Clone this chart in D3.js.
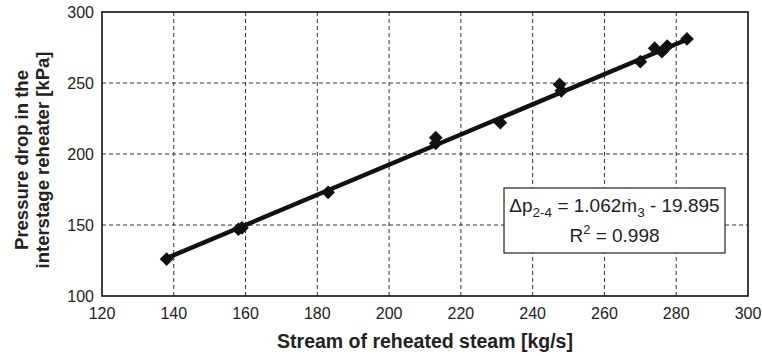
<!DOCTYPE html>
<html>
<head>
<meta charset="utf-8">
<script src="https://cdn.jsdelivr.net/npm/d3@7"></script>
<style>
  body { margin: 0; background: #fff; }
  text { font-family: "Liberation Sans", Arial, sans-serif; fill: #222; }
</style>
</head>
<body>
<div id="chart"></div>
<script>
var steamFlow = [138, 158, 159, 183, 213, 213, 231, 247.5, 248, 270, 274, 276, 277.5, 283];
var pressureDrop = [126, 147, 148, 173, 211.5, 207.5, 222, 249, 244.5, 265, 274.5, 272, 276, 281];
var xTicks = [120, 140, 160, 180, 200, 220, 240, 260, 280, 300];
var yTicks = [100, 150, 200, 250, 300];
var fitSlope = 1.062, fitIntercept = -19.895, fitR2 = 0.998;

var W = 762, H = 356;
var m = {left: 102, right: 748, top: 12, bottom: 296};

var svg = d3.select("#chart").append("svg").attr("width", W).attr("height", H);

var x = d3.scaleLinear().domain([120, 300]).range([m.left, m.right]);
var y = d3.scaleLinear().domain([100, 300]).range([m.bottom, m.top]);

// grid
svg.append("g").selectAll("line").data(xTicks.slice(1, -1)).join("line")
  .attr("x1", d => x(d)).attr("x2", d => x(d))
  .attr("y1", m.top).attr("y2", m.bottom)
  .attr("stroke", "#333").attr("stroke-width", 1).attr("stroke-dasharray", "4,3");
svg.append("g").selectAll("line").data(yTicks.slice(1, -1)).join("line")
  .attr("y1", d => y(d)).attr("y2", d => y(d))
  .attr("x1", m.left).attr("x2", m.right)
  .attr("stroke", "#333").attr("stroke-width", 1).attr("stroke-dasharray", "4,3");

// frame
svg.append("rect")
  .attr("x", m.left).attr("y", m.top)
  .attr("width", m.right - m.left).attr("height", m.bottom - m.top)
  .attr("fill", "none").attr("stroke", "#111").attr("stroke-width", 1.6);

// tick labels
svg.append("g").selectAll("text").data(xTicks).join("text")
  .attr("x", d => x(d)).attr("y", m.bottom + 23)
  .attr("text-anchor", "middle").style("font-size", "16px")
  .text(d => d);
svg.append("g").selectAll("text").data(yTicks).join("text")
  .attr("x", m.left - 8).attr("y", d => y(d) + 6)
  .attr("text-anchor", "end").style("font-size", "16px")
  .text(d => d);

// trend line over the data range
var xr = d3.extent(steamFlow);
svg.append("line")
  .attr("x1", x(xr[0])).attr("y1", y(fitSlope * xr[0] + fitIntercept))
  .attr("x2", x(xr[1])).attr("y2", y(fitSlope * xr[1] + fitIntercept))
  .attr("stroke", "#111").attr("stroke-width", 4.5);

// diamonds
var diamond = d3.symbol().type(d3.symbolDiamond2).size(120);
svg.append("g").selectAll("path").data(steamFlow).join("path")
  .attr("transform", (d, i) => "translate(" + x(d) + "," + y(pressureDrop[i]) + ")")
  .attr("d", diamond)
  .attr("fill", "#111");

// equation box
var box = svg.append("g").attr("transform", "translate(504,188)");
box.append("rect").attr("width", 221).attr("height", 65)
  .attr("fill", "#fff").attr("stroke", "#222").attr("stroke-width", 1.2);
var eq = box.append("text").attr("x", 110.5).attr("y", 24)
  .attr("text-anchor", "middle").style("font-size", "19px");
eq.append("tspan").text("\u0394p");
eq.append("tspan").attr("dy", 5).style("font-size", "13.5px").text("2-4");
eq.append("tspan").attr("dy", -5).text(" = " + fitSlope + "m\u0307");
eq.append("tspan").attr("dy", 5).style("font-size", "13.5px").text("3");
eq.append("tspan").attr("dy", -5).text(" - " + (-fitIntercept));
var r2 = box.append("text").attr("x", 110.5).attr("y", 54)
  .attr("text-anchor", "middle").style("font-size", "19px");
r2.append("tspan").text("R");
r2.append("tspan").attr("dy", -8).style("font-size", "13px").text("2");
r2.append("tspan").attr("dy", 8).text(" = " + fitR2);

// axis titles
svg.append("text").attr("x", 425).attr("y", 348)
  .attr("text-anchor", "middle")
  .style("font-size", "19.5px").style("font-weight", "bold")
  .text("Stream of reheated steam [kg/s]");
var yt = svg.append("text")
  .attr("transform", "translate(0,160) rotate(-90)")
  .attr("text-anchor", "middle")
  .style("font-size", "18.5px").style("font-weight", "bold");
yt.append("tspan").attr("x", 0).attr("y", 28).text("Pressure drop in the");
yt.append("tspan").attr("x", 0).attr("y", 49).text("interstage reheater [kPa]");
</script>
</body>
</html>
